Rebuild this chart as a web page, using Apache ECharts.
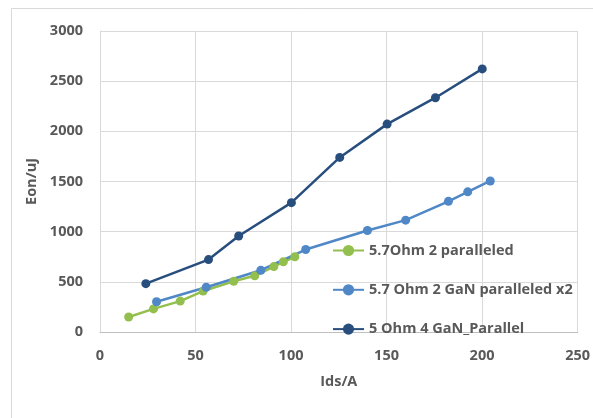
<!DOCTYPE html>
<html>
<head>
<meta charset="utf-8">
<script src="https://cdn.jsdelivr.net/npm/echarts@6/dist/echarts.min.js"></script>
<style>
  html, body { margin: 0; padding: 0; background: #ffffff; }
  #chart { width: 593px; height: 418px; }
</style>
</head>
<body>
<div id="chart"></div>
<script>
// Turn-on energy vs drain current for three paralleling setups
const seriesNames = ['5.7Ohm 2 paralleled', '5.7 Ohm 2 GaN paralleled x2', '5 Ohm 4 GaN_Parallel'];

const greenIds = [15, 28, 42, 54, 70, 81, 91, 96, 102];
const greenEon = [150, 230, 308, 408, 506, 560, 652, 700, 750];

const blueIds = [29.6, 55.6, 84.2, 107.7, 140, 160, 182.4, 192.5, 204.3];
const blueEon = [302, 446, 616, 822, 1012, 1115, 1302, 1397, 1505];

const darkIds = [24, 56.8, 72.6, 100.2, 125.5, 150.3, 175.6, 200.1];
const darkEon = [482, 722, 957, 1289, 1740, 2072, 2335, 2622];

const xTicks = [0, 50, 100, 150, 200, 250];
const yTicks = [0, 500, 1000, 1500, 2000, 2500, 3000];

const colors = ['#92BF4E', '#4F87C7', '#284E7E'];
const textColor = '#595959';
const font = '"Open Sans", "Liberation Sans", sans-serif';

function pairs(xs, ys) {
  return xs.map((x, i) => [x, ys[i]]);
}

const chart = echarts.init(document.getElementById('chart'), null, { renderer: 'canvas' });

function makeSeries(name, xs, ys, color) {
  return {
    name: name,
    type: 'line',
    data: pairs(xs, ys),
    symbol: 'circle',
    symbolSize: 9,
    showSymbol: true,
    itemStyle: { color: color },
    lineStyle: { color: color, width: 2.5 },
    emphasis: { disabled: true },
    animation: false
  };
}

const labelStyle = { color: textColor, fontFamily: font, fontSize: 14.5, fontWeight: 'bold' };

chart.setOption({
  animation: false,
  backgroundColor: '#ffffff',
  graphic: [
    {
      type: 'polyline',
      shape: { points: [[11.5, 420], [11.5, 8.5], [600, 8.5]] },
      style: { stroke: '#d9d9d9', lineWidth: 1, fill: null },
      silent: true
    }
  ],
  grid: {
    left: 100,
    right: 15,
    top: 31,
    bottom: 86,
    containLabel: false
  },
  legend: {
    data: seriesNames,
    orient: 'vertical',
    left: 332,
    top: 243,
    padding: 0,
    itemWidth: 31,
    itemHeight: 14,
    itemGap: 24.3,
    textStyle: Object.assign({ padding: [0, 0, 0, 0] }, labelStyle)
  },
  xAxis: {
    type: 'value',
    min: xTicks[0],
    max: xTicks[xTicks.length - 1],
    interval: 50,
    name: 'Ids/A',
    nameLocation: 'middle',
    nameGap: 42,
    nameTextStyle: labelStyle,
    axisLine: { show: true, lineStyle: { color: '#bfbfbf', width: 1 } },
    axisTick: { show: false },
    axisLabel: Object.assign({ margin: 16, formatter: v => String(v) }, labelStyle),
    splitLine: { show: true, lineStyle: { color: '#d9d9d9', width: 1 } }
  },
  yAxis: {
    type: 'value',
    min: yTicks[0],
    max: yTicks[yTicks.length - 1],
    interval: 500,
    name: 'Eon/uJ',
    nameLocation: 'middle',
    nameGap: 56,
    nameTextStyle: labelStyle,
    axisLine: { show: true, lineStyle: { color: '#d9d9d9', width: 1 } },
    axisTick: { show: false },
    axisLabel: Object.assign({ margin: 17, formatter: v => String(v) }, labelStyle),
    splitLine: { show: true, lineStyle: { color: '#d9d9d9', width: 1 } }
  },
  series: [
    makeSeries(seriesNames[0], greenIds, greenEon, colors[0]),
    makeSeries(seriesNames[1], blueIds, blueEon, colors[1]),
    makeSeries(seriesNames[2], darkIds, darkEon, colors[2])
  ]
});
</script>
</body>
</html>
